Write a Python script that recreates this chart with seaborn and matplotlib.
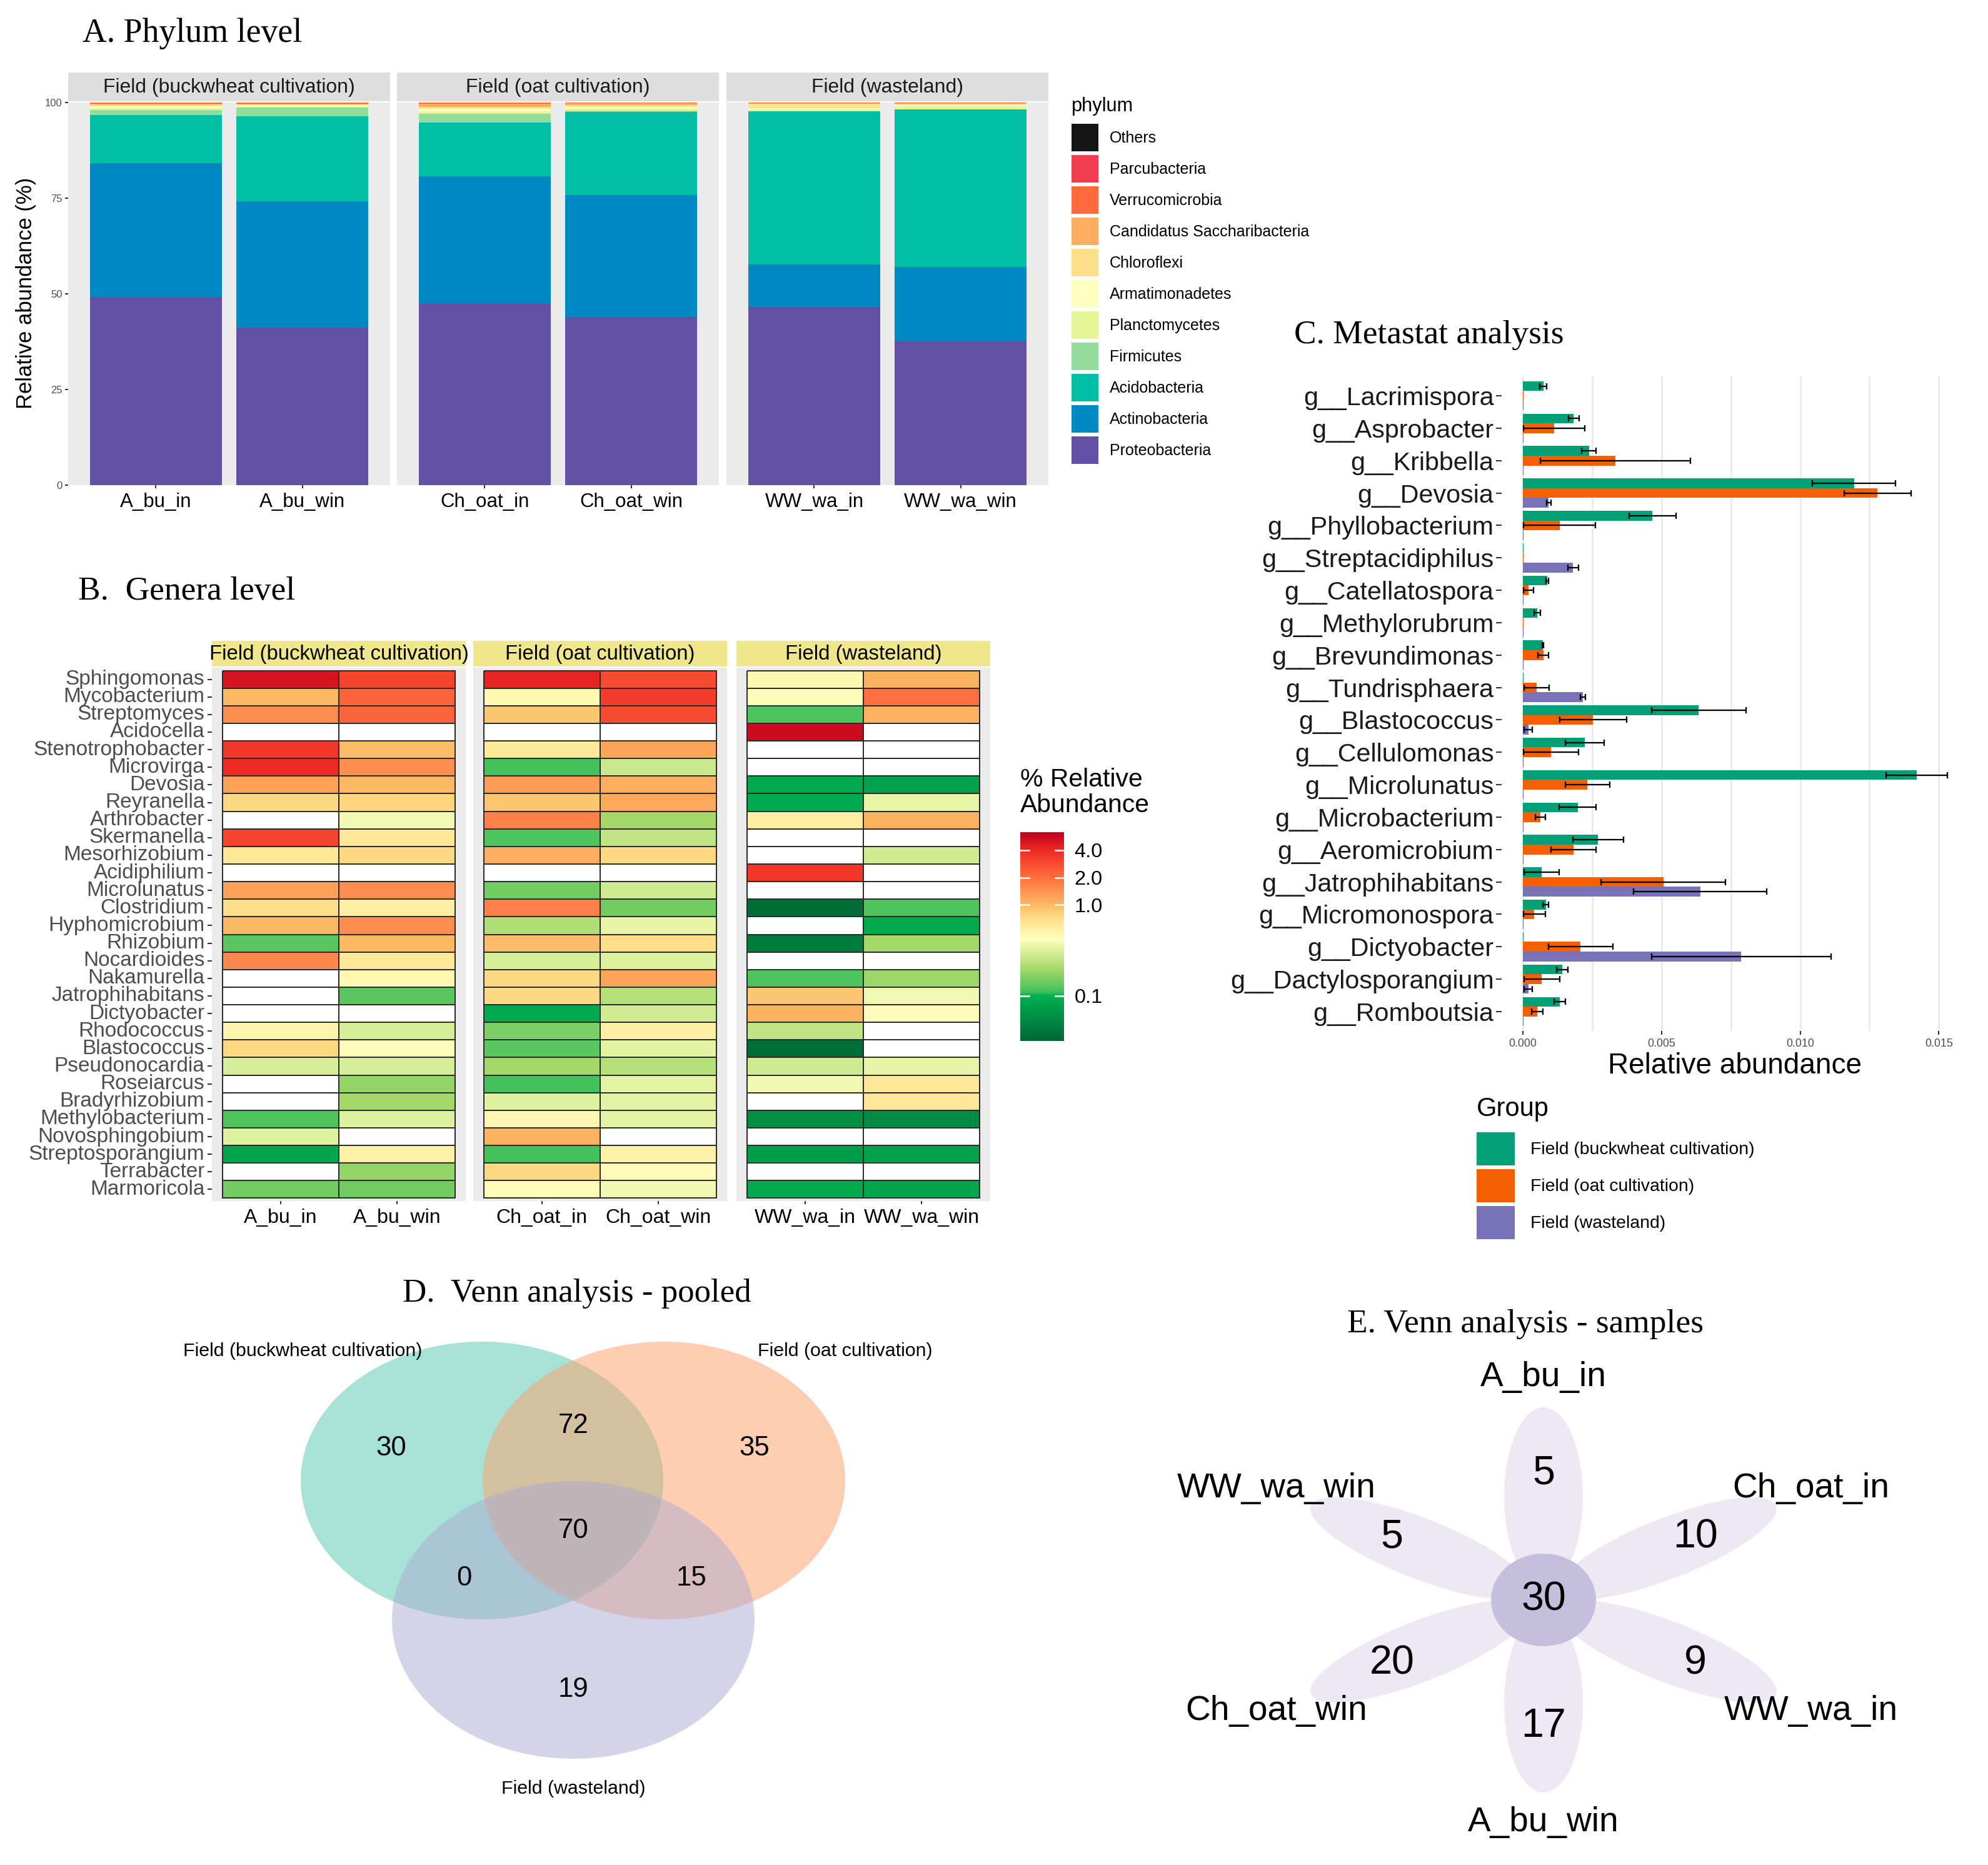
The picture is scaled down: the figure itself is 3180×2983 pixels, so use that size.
import numpy as np
import pandas as pd
import seaborn as sns
import matplotlib.pyplot as plt
from matplotlib.colors import LogNorm, LinearSegmentedColormap
from matplotlib.patches import Ellipse, Patch, Polygon
from matplotlib.cm import ScalarMappable

nan = np.nan

# ---------------- data ----------------
samples = ["A_bu_in", "A_bu_win", "Ch_oat_in", "Ch_oat_win", "WW_wa_in", "WW_wa_win"]
fields = ["Field (buckwheat cultivation)", "Field (oat cultivation)", "Field (wasteland)"]

# A. phylum level, % per sample (legend order, top of the stack first)
phyla = ["Others", "Parcubacteria", "Verrucomicrobia", "Candidatus Saccharibacteria",
         "Chloroflexi", "Armatimonadetes", "Planctomycetes", "Firmicutes",
         "Acidobacteria", "Actinobacteria", "Proteobacteria"]
others = [0.0, 0.0, 0.0, 0.0, 0.0, 0.0]
parcubacteria = [0.0, 0.0, 0.0, 0.0, 0.0, 0.0]
verrucomicrobia = [0.3, 0.4, 0.4, 0.2, 0.1, 0.2]
saccharibacteria = [0.2, 0.1, 0.7, 0.4, 0.2, 0.1]
chloroflexi = [0.4, 0.2, 0.5, 0.5, 1.2, 0.3]
armatimonadetes = [0.5, 0.2, 0.7, 0.5, 0.3, 0.4]
planctomycetes = [0.5, 0.4, 0.7, 0.6, 0.5, 0.8]
firmicutes = [1.4, 2.3, 2.3, 0.3, 0.0, 0.0]
acidobacteria = [12.6, 22.2, 13.9, 21.7, 40.0, 41.2]
actinobacteria = [34.9, 33.0, 33.3, 31.9, 11.1, 19.3]
proteobacteria = [49.2, 41.2, 47.5, 43.9, 46.6, 37.7]

# B. genera level, % relative abundance (nan = absent)
genera = ["Sphingomonas", "Mycobacterium", "Streptomyces", "Acidocella", "Stenotrophobacter",
          "Microvirga", "Devosia", "Reyranella", "Arthrobacter", "Skermanella",
          "Mesorhizobium", "Acidiphilium", "Microlunatus", "Clostridium", "Hyphomicrobium",
          "Rhizobium", "Nocardioides", "Nakamurella", "Jatrophihabitans", "Dictyobacter",
          "Rhodococcus", "Blastococcus", "Pseudonocardia", "Roseiarcus", "Bradyrhizobium",
          "Methylobacterium", "Novosphingobium", "Streptosporangium", "Terrabacter", "Marmoricola"]
a_bu_in = [5.0, 1.0, 1.5, nan, 3.5, 4.0, 1.25, 0.75, nan, 3.0, 0.62, nan, 1.25, 0.72, 1.0,
           0.13, 1.6, nan, nan, nan, 0.5, 0.75, 0.3, nan, nan, 0.12, 0.32, 0.085, nan, 0.15]
a_bu_win = [3.0, 2.2, 2.2, nan, 0.95, 1.5, 1.0, 0.78, 0.38, 0.62, 0.75, nan, 1.5, 0.55, 1.5,
            1.0, 0.6, 0.47, 0.13, nan, 0.3, 0.44, 0.3, 0.18, 0.2, 0.32, nan, 0.52, 0.18, 0.15]
ch_oat_in = [4.2, 0.47, 0.88, nan, 0.6, 0.115, 1.3, 0.88, 1.7, 0.12, 1.1, nan, 0.15, 1.7, 0.22,
             0.95, 0.3, 0.75, 0.75, 0.09, 0.16, 0.13, 0.2, 0.115, 0.32, 0.48, 1.05, 0.115, 0.75, 0.44]
ch_oat_win = [2.9, 3.3, 2.9, nan, 1.2, 0.27, 1.1, 1.15, 0.2, 0.25, 0.75, nan, 0.28, 0.15, 0.35,
              0.72, 0.32, 1.2, 0.23, 0.29, 0.53, 0.33, 0.23, 0.33, 0.33, 0.33, nan, 0.52, 0.44, 0.38]
ww_wa_in = [0.47, 0.44, 0.12, 5.5, nan, nan, 0.09, 0.09, 0.56, nan, nan, 3.5, nan, 0.035, nan,
            0.045, nan, 0.12, 0.88, 1.05, 0.25, 0.035, 0.28, 0.38, nan, 0.06, nan, 0.075, nan, 0.09]
ww_wa_win = [1.05, 2.0, 1.05, nan, nan, nan, 0.08, 0.35, 1.05, nan, 0.28, nan, nan, 0.12, 0.09,
             0.2, nan, 0.19, 0.38, 0.44, nan, nan, 0.35, 0.62, 0.62, 0.055, nan, 0.08, nan, 0.085]

# C. metastat analysis
metastat_genera = ["g__Lacrimispora", "g__Asprobacter", "g__Kribbella", "g__Devosia",
                   "g__Phyllobacterium", "g__Streptacidiphilus", "g__Catellatospora",
                   "g__Methylorubrum", "g__Brevundimonas", "g__Tundrisphaera", "g__Blastococcus",
                   "g__Cellulomonas", "g__Microlunatus", "g__Microbacterium", "g__Aeromicrobium",
                   "g__Jatrophihabitans", "g__Micromonospora", "g__Dictyobacter",
                   "g__Dactylosporangium", "g__Romboutsia"]
buckwheat_mean = [0.00074, 0.00184, 0.00239, 0.01194, 0.00468, 0.00002, 0.00088, 0.00053, 0.00072, 0.00002,
                  0.00634, 0.00224, 0.0142, 0.00198, 0.00272, 0.00069, 0.00083, 0.00002, 0.00143, 0.00133]
buckwheat_se = [0.00012, 0.0002, 0.00026, 0.0015, 0.00084, 0, 0.00005, 0.00011, 0.00002, 0,
                0.0017, 0.0007, 0.0011, 0.00066, 0.00092, 0.00063, 0.0001, 0, 0.0002, 0.0002]
oat_mean = [0.00002, 0.00113, 0.00334, 0.01279, 0.00133, 0.00002, 0.00021, 0.00002, 0.00074, 0.0005,
            0.00254, 0.00102, 0.00233, 0.00064, 0.00184, 0.00507, 0.00042, 0.00209, 0.00069, 0.00053]
oat_se = [0, 0.0011, 0.0027, 0.0012, 0.0013, 0, 0.00019, 0, 0.0002, 0.00045,
          0.0012, 0.001, 0.0008, 0.00018, 0.00081, 0.00224, 0.0004, 0.00116, 0.00065, 0.0002]
waste_mean = [0.00002, 0.00002, 0.00002, 0.00094, 0.00002, 0.00182, 0.00002, 0.00002, 0.00002, 0.00217,
              0.0002, 0.00002, 0.00002, 0.00002, 0.00002, 0.0064, 0.00002, 0.00788, 0.0002, 0.00002]
waste_se = [0, 0, 0, 0.00007, 0, 0.0002, 0, 0, 0, 0.00009,
            0.00015, 0, 0, 0, 0, 0.0024, 0, 0.00324, 0.00015, 0]

# D. pooled venn (region code: buckwheat/oat/wasteland membership)
venn_regions = ["100", "010", "001", "110", "101", "011", "111"]
venn_counts = [30, 35, 19, 72, 0, 15, 70]

# E. flower venn
flower_samples = ["A_bu_in", "Ch_oat_in", "WW_wa_in", "A_bu_win", "Ch_oat_win", "WW_wa_win"]
flower_unique = [5, 10, 9, 17, 20, 5]
flower_core = 30

# ---------------- styling ----------------
W, H, DPI = 3180, 2983, 300
plt.rcParams['font.family'] = ['Liberation Sans', 'DejaVu Sans']
SERIF = ['Liberation Serif', 'DejaVu Serif']
phylum_colors = ["#141414", "#F23C50", "#FF6B3C", "#FDAE61", "#FEE08B", "#FFFFBF",
                 "#E6F598", "#94DC9C", "#00BFA5", "#0088C2", "#6250A5"]
group_colors = ["#03A077", "#F65E02", "#7872B8"]

fig = plt.figure(figsize=(W / DPI, H / DPI), dpi=DPI)


def px_axes(x0, y0, x1, y1):
    return fig.add_axes([x0 / W, 1 - y1 / H, (x1 - x0) / W, (y1 - y0) / H])


def fx(x):
    return x / W


def fy(y):
    return 1 - y / H


# ---------------- A. Phylum level ----------------
phylum_table = pd.DataFrame({
    "Others": others, "Parcubacteria": parcubacteria, "Verrucomicrobia": verrucomicrobia,
    "Candidatus Saccharibacteria": saccharibacteria, "Chloroflexi": chloroflexi,
    "Armatimonadetes": armatimonadetes, "Planctomycetes": planctomycetes,
    "Firmicutes": firmicutes, "Acidobacteria": acidobacteria,
    "Actinobacteria": actinobacteria, "Proteobacteria": proteobacteria}, index=samples)[phyla]
cum = phylum_table.iloc[:, ::-1].cumsum(axis=1).iloc[:, ::-1]

a_left = [109, 635, 1162]
for i, field in enumerate(fields):
    x0 = a_left[i]
    ax = px_axes(x0, 164, x0 + 515, 776)
    ax.set_facecolor("#EBEBEB")
    sub = samples[2 * i:2 * i + 2]
    for ph, col in zip(phyla, phylum_colors):
        sns.barplot(x=sub, y=cum.loc[sub, ph].values, color=col, width=0.9, saturation=1,
                    linewidth=0, errorbar=None, ax=ax)
    ax.set_xlim(-0.6, 1.6)
    ax.set_ylim(0, 100)
    ax.set_xlabel("")
    ax.set_ylabel("")
    for s in ax.spines.values():
        s.set_visible(False)
    ax.set_xticks(range(2))
    ax.set_xticklabels(sub, fontsize=7.5)
    ax.tick_params(axis='x', length=1.3, width=0.5, color='#333333', pad=1.5)
    if i == 0:
        ax.set_yticks([0, 25, 50, 75, 100])
        ax.set_yticklabels(["0", "25", "50", "75", "100"], fontsize=4.0, color='#4D4D4D')
        ax.tick_params(axis='y', length=1.3, width=0.5, color='#333333', pad=1)
    else:
        ax.set_yticks([])
    sax = px_axes(x0, 116, x0 + 515, 162)
    sax.set_facecolor("#DEDEDE")
    sax.set_xticks([])
    sax.set_yticks([])
    for s in sax.spines.values():
        s.set_visible(False)
    sax.text(0.5, 0.47, field, ha='center', va='center', transform=sax.transAxes,
             fontsize=7.65, color='#1A1A1A')

fig.text(fx(42), fy(469), "Relative abundance (%)", rotation=90, ha='center', va='center',
         fontsize=8.3)
leg_a = fig.legend(handles=[Patch(facecolor=c, edgecolor='none', label=p)
                            for p, c in zip(phyla, phylum_colors)],
                   title="phylum", loc='upper left', bbox_to_anchor=(fx(1714), fy(155)),
                   frameon=False, prop={'size': 6.0}, title_fontproperties={'size': 7.4},
                   handlelength=1.72, handleheight=2.33, labelspacing=0.24, handletextpad=0.72,
                   borderpad=0, borderaxespad=0, alignment='left')
leg_a._legend_box.sep = 3.2
fig.text(fx(132), fy(54), "A. Phylum level", ha='left', va='center', fontsize=12.9,
         fontfamily=SERIF)

# ---------------- B. Genera level ----------------
heat = pd.DataFrame({"A_bu_in": a_bu_in, "A_bu_win": a_bu_win, "Ch_oat_in": ch_oat_in,
                     "Ch_oat_win": ch_oat_win, "WW_wa_in": ww_wa_in, "WW_wa_win": ww_wa_win},
                    index=genera)
vmin, vmax = 0.032, 6.3
anchor_vals = [0.032, 0.1, 0.11, 0.2, 0.42, 0.7, 1.0, 2.0, 4.0, 6.3]
anchor_cols = ["#006837", "#00B050", "#40C05A", "#A6D96A", "#FFFFBF", "#FEE08B",
               "#FDB863", "#FF7040", "#EE2A24", "#C0001E"]
pos = [(np.log(v) - np.log(vmin)) / (np.log(vmax) - np.log(vmin)) for v in anchor_vals]
cmap = LinearSegmentedColormap.from_list("abund", list(zip(pos, anchor_cols)))
cmap.set_bad("white")
norm = LogNorm(vmin=vmin, vmax=vmax)

b_left = [339, 757, 1178]
for i, field in enumerate(fields):
    x0 = b_left[i]
    ax = px_axes(x0, 1068, x0 + 406, 1921)
    sub = samples[2 * i:2 * i + 2]
    sns.heatmap(heat[sub], ax=ax, cmap=cmap, norm=norm, cbar=False, linewidths=0.45,
                linecolor='#2B2B2B', xticklabels=True, yticklabels=(i == 0))
    ax.set_facecolor("#EBEBEB")
    ax.set_xlim(-0.09, 2.09)
    ax.set_ylim(30.16, -0.16)
    ax.set_xlabel("")
    ax.set_ylabel("")
    ax.tick_params(axis='x', labelsize=7.7, labelrotation=0, length=1.3, width=0.5,
                   color='#333333', pad=1.5)
    if i == 0:
        ax.tick_params(axis='y', labelsize=8, labelrotation=0, labelcolor='#4D4D4D',
                       length=1.8, width=0.5, color='#333333', pad=1)
    sax = px_axes(x0, 1025, x0 + 406, 1066)
    sax.set_facecolor("#F0E68C")
    sax.set_xticks([])
    sax.set_yticks([])
    for s in sax.spines.values():
        s.set_visible(False)
    sax.text(0.5, 0.48, field, ha='center', va='center', transform=sax.transAxes,
             fontsize=7.9, color='black')

cax = px_axes(1632, 1331, 1702, 1665)
cb = fig.colorbar(ScalarMappable(norm=norm, cmap=cmap), cax=cax)
cb.outline.set_visible(False)
cb.set_ticks([0.1, 1.0, 2.0, 4.0])
cb.set_ticklabels(["0.1", "1.0", "2.0", "4.0"])
cax.tick_params(length=0, labelsize=7.8, pad=4)
cax.minorticks_off()
for t in [0.1, 1.0, 2.0, 4.0]:
    cax.plot([0, 0.2], [t, t], color='white', lw=0.6)
    cax.plot([0.8, 1], [t, t], color='white', lw=0.6)
fig.text(fx(1632), fy(1268), "% Relative\nAbundance", ha='left', va='center', fontsize=9.8,
         linespacing=1.1)
fig.text(fx(125), fy(946), "B.  Genera level", ha='left', va='center', fontsize=12.8,
         fontfamily=SERIF)

# ---------------- C. Metastat analysis ----------------
df_c = pd.DataFrame({
    "genus": metastat_genera * 3,
    "group": np.repeat(fields, len(metastat_genera)),
    "mean": buckwheat_mean + oat_mean + waste_mean,
    "se": buckwheat_se + oat_se + waste_se})
ax = px_axes(2402, 602, 3148, 1649)
sns.barplot(data=df_c, x="mean", y="genus", hue="group", order=metastat_genera,
            hue_order=fields, palette=group_colors, orient='h', width=0.9, saturation=1,
            errorbar=None, linewidth=0, legend=False, ax=ax)
for cont, g in zip(ax.containers, fields):
    sub = df_c[df_c.group == g].set_index("genus").loc[metastat_genera]
    ys = np.array([b.get_y() + b.get_height() / 2 for b in cont])
    keep = sub["se"].values > 0
    lower = np.minimum(sub["se"].values, sub["mean"].values)
    ax.errorbar(sub["mean"].values[keep], ys[keep],
                xerr=[lower[keep], sub["se"].values[keep]], fmt='none', ecolor='black',
                elinewidth=0.55, capsize=1.1, capthick=0.55, zorder=5)
ax.set_xlim(-0.00076, 0.01605)
ax.set_ylim(len(metastat_genera) - 0.4, -0.6)
ax.set_xticks([0, 0.005, 0.010, 0.015])
ax.set_xticklabels(["0.000", "0.005", "0.010", "0.015"], fontsize=4.3, color='#4D4D4D')
ax.set_xticks(np.arange(0.0025, 0.016, 0.005), minor=True)
ax.grid(axis='x', which='both', color='#EBEBEB', lw=0.7)
ax.set_axisbelow(True)
ax.tick_params(axis='x', which='major', length=1.4, width=0.5, color='#333333', pad=1.6)
ax.tick_params(axis='x', which='minor', length=0)
ax.tick_params(axis='y', length=2.2, width=0.5, color='#333333', pad=0.8, labelsize=9.9,
               labelcolor='#1A1A1A')
for s in ax.spines.values():
    s.set_visible(False)
ax.set_ylabel("")
ax.set_xlabel("Relative abundance", fontsize=11, labelpad=1.0)
leg_c = fig.legend(handles=[Patch(facecolor=c, edgecolor='none', label=g)
                            for g, c in zip(fields, group_colors)],
                   title="Group", loc='upper left', bbox_to_anchor=(fx(2362), fy(1754)),
                   frameon=False, prop={'size': 6.8}, title_fontproperties={'size': 10},
                   handlelength=2.15, handleheight=2.5, labelspacing=0.21, handletextpad=0.88,
                   borderpad=0, borderaxespad=0, alignment='left')
leg_c._legend_box.sep = 4.0
fig.text(fx(2070), fy(536), "C. Metastat analysis", ha='left', va='center', fontsize=12.8,
         fontfamily=SERIF)

# ---------------- D / E. Venn panels ----------------
canvas = fig.add_axes([0, 0, 1, 1])
canvas.set_xlim(0, W)
canvas.set_ylim(H, 0)
canvas.axis('off')

# D pooled Venn
venn_centers = [(771, 2368), (1062, 2368), (917, 2591)]
venn_fill = ["#53C7B1", "#FF9F67", "#ADA9D3"]
for (cx, cy), col in zip(venn_centers, venn_fill):
    canvas.add_patch(Ellipse((cx, cy), 580, 444, facecolor=col, edgecolor='none', alpha=0.5))
region_xy = {"100": (626, 2316), "010": (1207, 2316), "001": (917, 2703),
             "110": (917, 2281), "101": (742, 2525), "011": (1106, 2525), "111": (917, 2448)}
for reg, n in zip(venn_regions, venn_counts):
    x, y = region_xy[reg]
    canvas.text(x, y, str(n), ha='center', va='center', fontsize=10.5)
set_label_xy = [(484, 2161), (1352, 2161), (917, 2861)]
for name, (x, y) in zip(fields, set_label_xy):
    canvas.text(x, y, name, ha='center', va='center', fontsize=7.3)
canvas.text(923, 2069, "D.  Venn analysis - pooled", ha='center', va='center',
            fontsize=12.7, fontfamily=SERIF)

# E flower Venn
fcx, fcy = 2469, 2559
sx, sy = 1.387, 1.0
r0, pa, pb = 165, 143, 45.4
t = np.linspace(0, 2 * np.pi, 200)
for k, (name, n) in enumerate(zip(flower_samples, flower_unique)):
    th = np.deg2rad(90 - 60 * k)
    px = r0 * np.cos(th) + pa * np.cos(t) * np.cos(th) - pb * np.sin(t) * np.sin(th)
    py = r0 * np.sin(th) + pa * np.cos(t) * np.sin(th) + pb * np.sin(t) * np.cos(th)
    canvas.add_patch(Polygon(np.column_stack([fcx + sx * px, fcy - sy * py]),
                             closed=True, facecolor='#EEE8F4', edgecolor='none'))
    canvas.text(fcx + sx * 202 * np.cos(th), fcy - sy * 202 * np.sin(th), str(n),
                ha='center', va='center', fontsize=15.5)
    canvas.text(fcx + sx * 356 * np.cos(th), fcy - sy * 356 * np.sin(th), name,
                ha='center', va='center', fontsize=13.2)
canvas.add_patch(Ellipse((fcx, fcy), 168, 148, facecolor='#C3BFDD', edgecolor='none'))
canvas.text(fcx, fcy, str(flower_core), ha='center', va='center', fontsize=15.5)
canvas.text(2440, 2118, "E. Venn analysis - samples", ha='center', va='center',
            fontsize=12.8, fontfamily=SERIF)

fig.savefig("out.png", dpi=DPI)
